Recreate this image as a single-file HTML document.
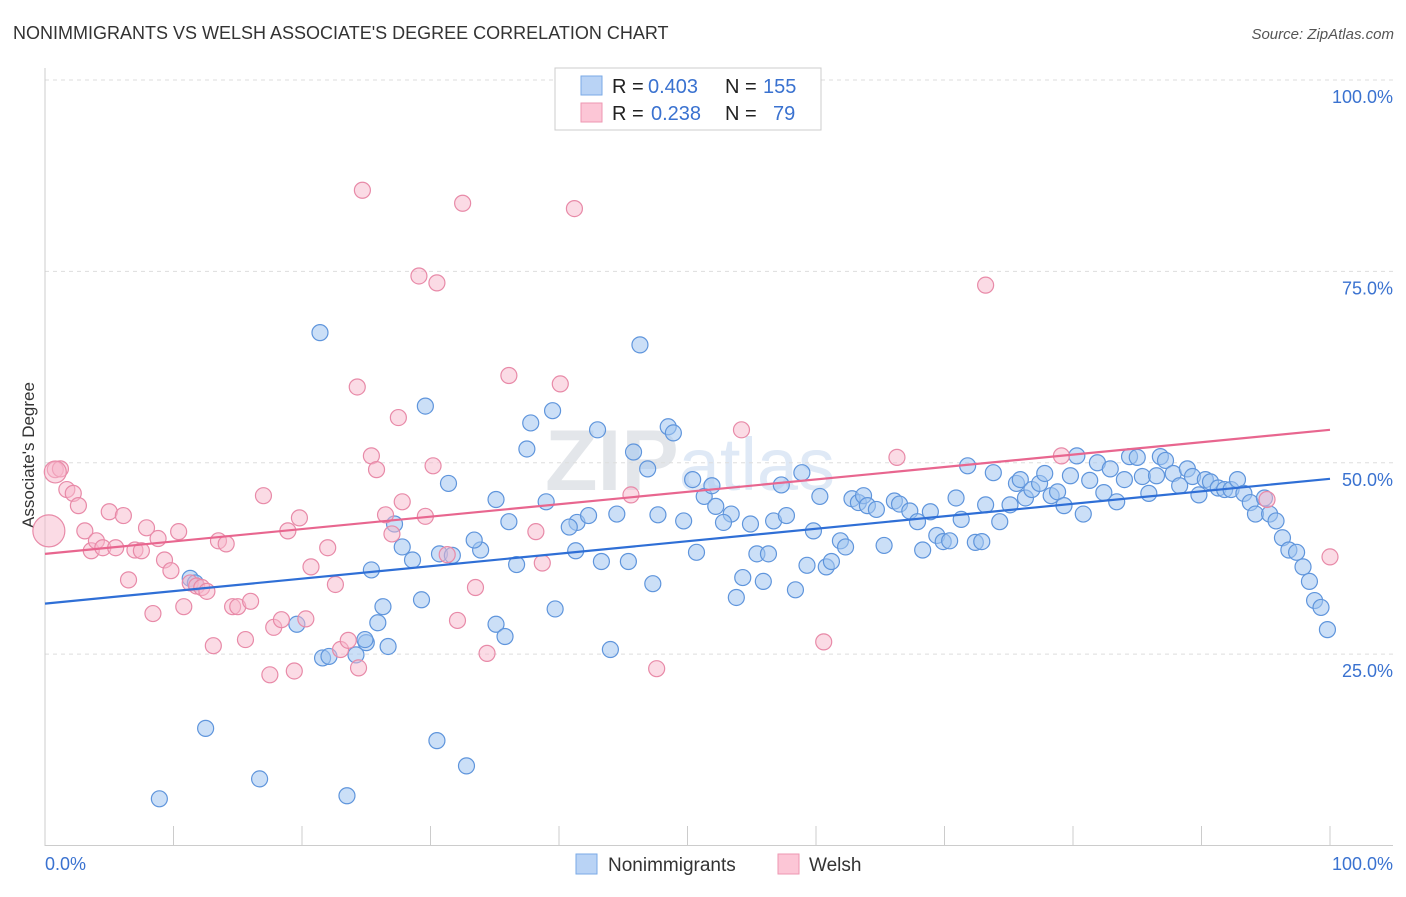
<!DOCTYPE html>
<html><head><meta charset="utf-8"><style>
body{margin:0;background:#fff;font-family:"Liberation Sans",sans-serif;}
svg text{font-family:"Liberation Sans",sans-serif;}
</style></head><body>
<svg id="chart" width="1406" height="892" xmlns="http://www.w3.org/2000/svg">
<text x="13" y="39" font-size="18" fill="#333">NONIMMIGRANTS VS WELSH ASSOCIATE'S DEGREE CORRELATION CHART</text>
<text x="1394" y="39" font-size="15" fill="#555" text-anchor="end" font-style="italic">Source: ZipAtlas.com</text>
<text transform="translate(34,455) rotate(-90)" font-size="17" fill="#333" text-anchor="middle">Associate's Degree</text>
<text x="690" y="490" font-size="86" fill="#e3e6ea" text-anchor="middle" font-weight="bold">ZIP<tspan fill="#dfe9f6" font-weight="normal" font-size="74">atlas</tspan></text>
<g id="grid"></g><g id="axes"></g><g id="pts"></g><g id="lines"></g>
<g>
<rect x="555" y="68" width="266" height="62" fill="#fff" stroke="#ccc"/>
<rect x="581" y="76" width="21" height="19" fill="#b9d3f5" stroke="#7aa9e6"/>
<rect x="581" y="103" width="21" height="19" fill="#fcc6d6" stroke="#ee97b2"/>
<text x="612" y="93" font-size="20" fill="#222">R =</text>
<text x="648" y="93" font-size="20" fill="#3a72d0">0.403</text>
<text x="725" y="93" font-size="20" fill="#222">N =</text>
<text x="763" y="93" font-size="20" fill="#3a72d0">155</text>
<text x="612" y="120" font-size="20" fill="#222">R =</text>
<text x="651" y="120" font-size="20" fill="#3a72d0">0.238</text>
<text x="725" y="120" font-size="20" fill="#222">N =</text>
<text x="773" y="120" font-size="20" fill="#3a72d0">79</text>
</g>
<g>
<rect x="576" y="854" width="21" height="20" fill="#b9d3f5" stroke="#7aa9e6"/>
<text x="608" y="871" font-size="19" fill="#333">Nonimmigrants</text>
<rect x="778" y="854" width="21" height="20" fill="#fcc6d6" stroke="#ee97b2"/>
<text x="809" y="871" font-size="19" fill="#333">Welsh</text>
</g>
</svg>
<script>
const blueX=[160,259,347,205,437,466,320,640,425,553,531,598,668,674,527,634,648,449,496,509,546,577,588,617,569,576,602,628,658,684,692,704,712,716,731,723,751,774,787,802,781,820,813,697,757,768,743,763,736,795,807,826,832,840,846,852,858,864,868,876,884,894,899,910,917,923,930,937,943,950,956,961,968,975,982,993,986,1000,1010,1016,1020,1025,1032,1040,1045,1051,1058,1064,1070,1077,1083,1090,1097,1104,1110,1117,1124,1130,1137,1143,1149,1156,1161,1166,1173,1180,1187,1193,1199,1205,1211,1218,1224,1231,1238,1244,1250,1256,1264,1270,1276,1282,1289,1296,1303,1309,1315,1321,1328,496,505,421,383,378,366,388,356,323,297,371,190,195,402,412,440,452,481,517,555,610,653,395,474,365,329].map(p=>+((p-45)/12.85).toFixed(1));
const blueY=[799,779,796,729,741,766,333,345,406,411,423,430,427,433,449,452,469,484,500,522,502,523,516,514,527,551,562,562,515,521,480,497,486,507,514,523,524,521,516,473,485,497,531,553,554,554,578,582,598,590,566,567,562,541,547,499,503,496,506,510,546,501,504,511,522,550,512,536,542,541,498,520,466,543,542,473,505,522,505,484,480,498,490,484,474,496,492,506,476,456,514,481,463,493,469,502,480,457,458,477,494,476,457,461,474,486,469,477,495,480,482,488,490,490,480,494,503,514,498,514,521,538,550,553,567,582,601,608,630,625,637,600,607,623,643,647,655,658,625,570,579,583,547,560,554,556,550,565,609,650,584,524,540,640,657].map(p=>+((846-p)/7.66).toFixed(1));
const pinkX=[55,61,67,73,79,85,91,97,103,109,116,123,128,135,141,146,153,158,165,171,178,184,190,196,202,207,213,219,226,232,238,245,250,264,270,274,281,288,294,300,306,311,328,335,341,348,358,363,357,371,377,386,392,398,402,419,437,426,433,447,457,462,475,487,509,536,542,560,574,631,657,742,824,897,986,1061,1267,1330].map(p=>+((p-45)/12.85).toFixed(1));
const pinkY=[470,469,490,494,506,531,551,541,548,512,548,516,580,550,551,528,614,539,560,571,532,607,583,586,588,592,646,541,544,607,607,640,602,496,675,628,620,531,671,518,619,567,548,585,650,641,668,190,387,456,470,515,534,418,502,276,283,517,466,555,621,203,588,654,376,532,563,384,209,495,669,430,642,458,285,456,500,557].map(p=>+((846-p)/7.66).toFixed(1));
const bigPinkX=[0.3,0.8], bigPinkY=[41.1,48.8], bigPinkR=[16,11];
const trendIntercept=[31.6,38.1], trendSlope=[0.163,0.162];
const yTicks=[25,50,75,100], yTickLabels=["25.0%","50.0%","75.0%","100.0%"];
const sx=v=>45+v*12.85, sy=v=>845.5-v*7.655;
const NS="http://www.w3.org/2000/svg";
function mk(tag,parent,attrs){const e=document.createElementNS(NS,tag);for(const k in attrs)e.setAttribute(k,attrs[k]);document.getElementById(parent).appendChild(e);return e;}
yTicks.forEach((t,i)=>{
 const g=mk('line','grid',{x1:45,x2:1393,y1:sy(t),y2:sy(t),stroke:'#ddd','stroke-dasharray':'4,4'});
 
 
 const l=mk('text','axes',{x:1393,y:sy(t)+23,'font-size':18,fill:'#3a72d0','text-anchor':'end'});l.textContent=yTickLabels[i];
 
 
});
const xa=mk('line','axes',{x1:45,x2:1393,y1:845.5,y2:845.5,stroke:'#ccc'});


const ya=mk('line','axes',{x1:45,x2:45,y1:68,y2:845.5,stroke:'#ccc'});


for(let i=0;i<=10;i++){const t=mk('line','axes',{x1:sx(i*10),x2:sx(i*10),y1:826,y2:846,stroke:'#ccc'});
 
 }
const x0=mk('text','axes',{x:45,y:870,'font-size':18,fill:'#3a72d0'});x0.textContent='0.0%';


const x1=mk('text','axes',{x:1393,y:870,'font-size':18,fill:'#3a72d0','text-anchor':'end'});x1.textContent='100.0%';


blueX.forEach((x,i)=>{const c=mk('circle','pts',{cx:sx(x),cy:sy(blueY[i]),r:8,fill:'rgba(160,196,240,0.55)',stroke:'#5f95dc','stroke-width':1.2});
 
 });
pinkX.forEach((x,i)=>{const c=mk('circle','pts',{cx:sx(x),cy:sy(pinkY[i]),r:8,fill:'rgba(248,184,204,0.5)',stroke:'#e88aa8','stroke-width':1.2});
 
 });
bigPinkX.forEach((x,i)=>{const c=mk('circle','pts',{cx:sx(x),cy:sy(bigPinkY[i]),r:bigPinkR[i],fill:'rgba(248,184,204,0.5)',stroke:'#e88aa8','stroke-width':1.2});
 
 });
const colors=['#2f6fd6','#e8668f'];
trendIntercept.forEach((b,i)=>{const l=mk('line','lines',{x1:sx(0),y1:sy(b),x2:sx(100),y2:sy(b+trendSlope[i]*100),stroke:colors[i],'stroke-width':2.2});
 
 });
</script>
</body></html>
